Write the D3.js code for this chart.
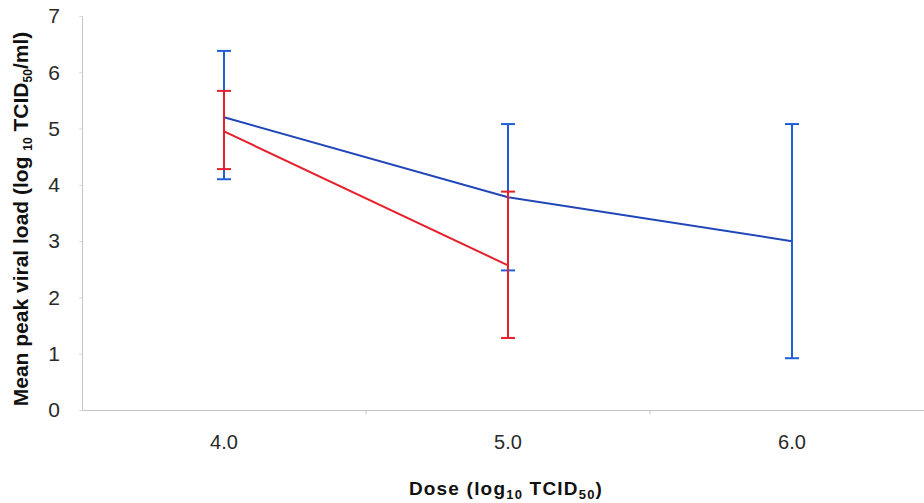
<!DOCTYPE html>
<html>
<head>
<meta charset="utf-8">
<script src="https://cdn.jsdelivr.net/npm/d3@7"></script>
<style>
  body { margin: 0; background: #fff; }
  svg { display: block; }
  .tick text { font-family: "Liberation Sans", Arial, sans-serif; }
</style>
</head>
<body>
<div id="chart"></div>
<script>
// doses on the x axis
const doses = ["4.0", "5.0", "6.0"];
const yTicks = [0, 1, 2, 3, 4, 5, 6, 7];

// blue series
const blueMean = [5.2, 3.78, 3.0];
const blueHigh = [6.38, 5.08, 5.08];
const blueLow = [4.1, 2.48, 0.92];

// red series (no 6.0 value)
const redMean = [4.95, 2.57];
const redHigh = [5.67, 3.88];
const redLow = [4.28, 1.28];

const width = 924, height = 503;
const blue = "#1f5fd6", blueLine = "#2146b8", red = "#e4202c";

const svg = d3.select("#chart").append("svg")
  .attr("width", width)
  .attr("height", height);

const x = d3.scaleBand().domain(doses).range([82, 934]);
const y = d3.scaleLinear().domain([0, 7]).range([410, 16]);

// y axis
const yAxis = svg.append("g")
  .attr("transform", "translate(82,0)")
  .call(d3.axisLeft(y).tickValues(yTicks).tickFormat(d3.format("d")).tickSize(3).tickPadding(19));
yAxis.select(".domain").attr("stroke", "#c4c4c4");
yAxis.selectAll(".tick line").attr("stroke", "#d8d8d8");
yAxis.selectAll(".tick text")
  .attr("font-size", 21).attr("fill", "#2a2a2a");

// x axis
const xAxis = svg.append("g")
  .attr("transform", "translate(0,410)")
  .call(d3.axisBottom(x).tickSize(0).tickPadding(25));
xAxis.select(".domain").attr("stroke", "#c4c4c4");
xAxis.selectAll(".tick text")
  .attr("font-size", 20).attr("fill", "#2a2a2a");
// separators between categories
xAxis.selectAll(".sep")
  .data(doses.slice(1))
  .enter().append("line")
  .attr("x1", d => x(d)).attr("x2", d => x(d))
  .attr("y1", 0).attr("y2", 4)
  .attr("stroke", "#c4c4c4");

const cx = d => x(d) + x.bandwidth() / 2;

function series(mean, high, low, col, lineCol) {
  const g = svg.append("g");
  const pts = mean.map((m, i) => ({ dose: doses[i], m: m, hi: high[i], lo: low[i] }));
  g.append("path")
    .datum(pts)
    .attr("fill", "none")
    .attr("stroke", lineCol)
    .attr("stroke-width", 2)
    .attr("d", d3.line().x(d => cx(d.dose)).y(d => y(d.m)));
  const bars = g.selectAll(".err").data(pts).enter().append("g");
  bars.append("line")
    .attr("x1", d => cx(d.dose)).attr("x2", d => cx(d.dose))
    .attr("y1", d => y(d.hi)).attr("y2", d => y(d.lo))
    .attr("stroke", col).attr("stroke-width", 2);
  ["hi", "lo"].forEach(k => {
    bars.append("line")
      .attr("x1", d => cx(d.dose) - 7).attr("x2", d => cx(d.dose) + 7)
      .attr("y1", d => y(d[k])).attr("y2", d => y(d[k]))
      .attr("stroke", col).attr("stroke-width", 2);
  });
}

series(blueMean, blueHigh, blueLow, blue, blueLine);
series(redMean, redHigh, redLow, red, red);

// axis titles
const yt = svg.append("text")
  .attr("transform", "translate(28,219) rotate(-90)")
  .attr("text-anchor", "middle")
  .attr("font-family", "'Liberation Sans', Arial, sans-serif")
  .attr("font-weight", "bold")
  .attr("font-size", 21)
  .attr("fill", "#111");
yt.append("tspan").text("Mean peak viral load (log ");
yt.append("tspan").attr("font-size", 12).attr("dy", 4).text("10");
yt.append("tspan").attr("dy", -4).text("  TCID");
yt.append("tspan").attr("font-size", 12).attr("dy", 4).text("50");
yt.append("tspan").attr("dy", -4).text("/ml)");

const xt = svg.append("text")
  .attr("x", 506).attr("y", 495)
  .attr("text-anchor", "middle")
  .attr("font-family", "'Liberation Sans', Arial, sans-serif")
  .attr("font-weight", "bold")
  .attr("font-size", 19)
  .attr("letter-spacing", 1.2)
  .attr("fill", "#111");
xt.append("tspan").text("Dose (log");
xt.append("tspan").attr("font-size", 13).attr("dy", 4).text("10");
xt.append("tspan").attr("dy", -4).text(" TCID");
xt.append("tspan").attr("font-size", 13).attr("dy", 4).text("50");
xt.append("tspan").attr("dy", -4).text(")");
</script>
</body>
</html>
